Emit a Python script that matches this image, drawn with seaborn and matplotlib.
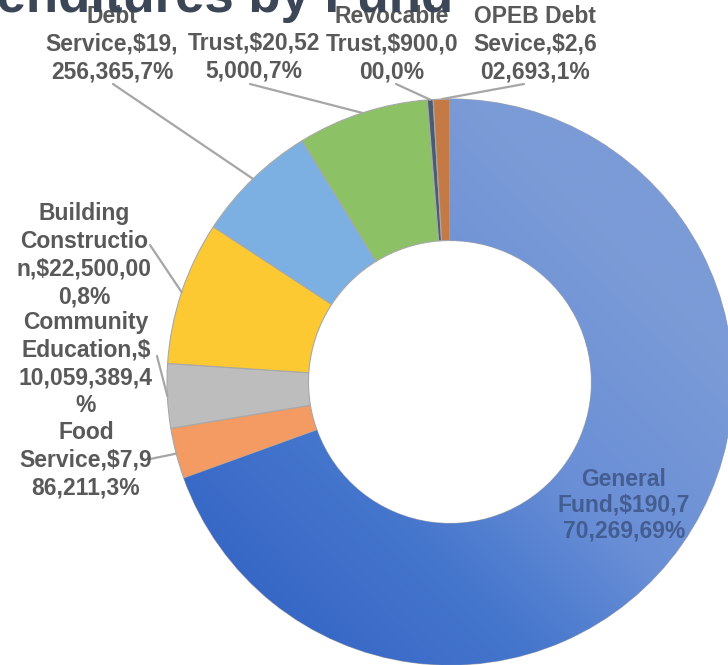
import numpy as np
import matplotlib.pyplot as plt
import seaborn as sns
from matplotlib.colors import LinearSegmentedColormap

# data (clockwise from 12 o'clock)
funds = ["General Fund", "Food Service", "Community Education", "Building Construction",
         "Debt Service", "Trust", "Revocable Trust", "OPEB Debt Sevice"]
amounts = [190770269, 7986211, 10059389, 22500000, 19256365, 20525000, 900000, 2602693]
pcts = [69, 3, 4, 8, 7, 7, 0, 1]
labels = [
    "General\nFund,$190,7\n70,269,69%",
    "Food\nService,$7,9\n86,211,3%",
    "Community\nEducation,$\n10,059,389,4\n%",
    "Building\nConstructio\nn,$22,500,00\n0,8%",
    "Debt\nService,$19,\n256,365,7%",
    "Trust,$20,52\n5,000,7%",
    "Revocable\nTrust,$900,0\n00,0%",
    "OPEB Debt\nSevice,$2,6\n02,693,1%",
]
colors = ["#5f8ad5", "#f39b62", "#bdbdbd", "#fdc933",
          "#7db0e2", "#8cc265", "#4b5b72", "#c57a45"]

# layout (pixels in the 728x665 picture)
CX, CY, R = 450, 382, 283
label_pos = [(624, 505), (86, 460), (86, 364), (84, 255),
             (112, 44), (254, 57), (392, 44), (535, 44)]
line_end = [None, (150, 459), (157, 356), (150, 245),
            (113, 84), (250, 84), (396, 84), (524, 84)]


def px(x, y):
    return (x - CX) / R, (CY - y) / R


sns.set_theme(style="white")
plt.rcParams["font.family"] = ["Liberation Sans", "DejaVu Sans"]

fig = plt.figure(figsize=(7.28, 6.65), dpi=100)
ax = fig.add_axes([0, 0, 1, 1])

wedges, _ = ax.pie(amounts, colors=colors, startangle=90, counterclock=False,
                   radius=1, wedgeprops=dict(width=0.5, edgecolor="#a8a8a8", linewidth=0.8))

# general fund slice has a diagonal shading in the original
grad = LinearSegmentedColormap.from_list(
    "gf", [(0.0, "#3565c5"), (0.35, "#4677cd"), (0.62, "#6a8fd6"), (1.0, "#7b9bd7")])
gx, gy = np.meshgrid(np.linspace(-1, 1, 300), np.linspace(-1, 1, 300))
tt = (gx + gy) / np.sqrt(2)
img = ax.imshow(tt, cmap=grad, vmin=-1.1, vmax=0.75, extent=(-1, 1, -1, 1),
                origin="lower", zorder=1.5, interpolation="bilinear")
img.set_clip_path(wedges[0])

ax.set_aspect("auto")
ax.set_xlim(-CX / R, (728 - CX) / R)
ax.set_ylim(-(665 - CY) / R, CY / R)
ax.axis("off")

for i, w in enumerate(wedges):
    lx, ly = px(*label_pos[i])
    if i == 0:
        ax.text(lx, ly, labels[i], ha="center", va="center", fontsize=16.5, fontweight="bold",
                color="#3d5587", alpha=0.85, linespacing=1.15, zorder=5)
        continue
    ax.text(lx, ly, labels[i], ha="center", va="center", fontsize=16.5, fontweight="bold",
            color="#595959", linespacing=1.26, zorder=5)
    mid = np.deg2rad((w.theta1 + w.theta2) / 2)
    ex, ey = px(*line_end[i])
    ax.plot([np.cos(mid), ex], [np.sin(mid), ey], color="#a6a6a6", lw=1.6, zorder=4)

# title, mostly cut off by the top edge, sits over the top labels
tx, ty = px(453, 12)
ax.text(tx, ty, "Expenditures by Fund", ha="right", va="baseline", fontsize=38,
        fontweight="bold", color="#3b4657", zorder=6, clip_on=False)

fig.savefig("out.png", dpi=100)
